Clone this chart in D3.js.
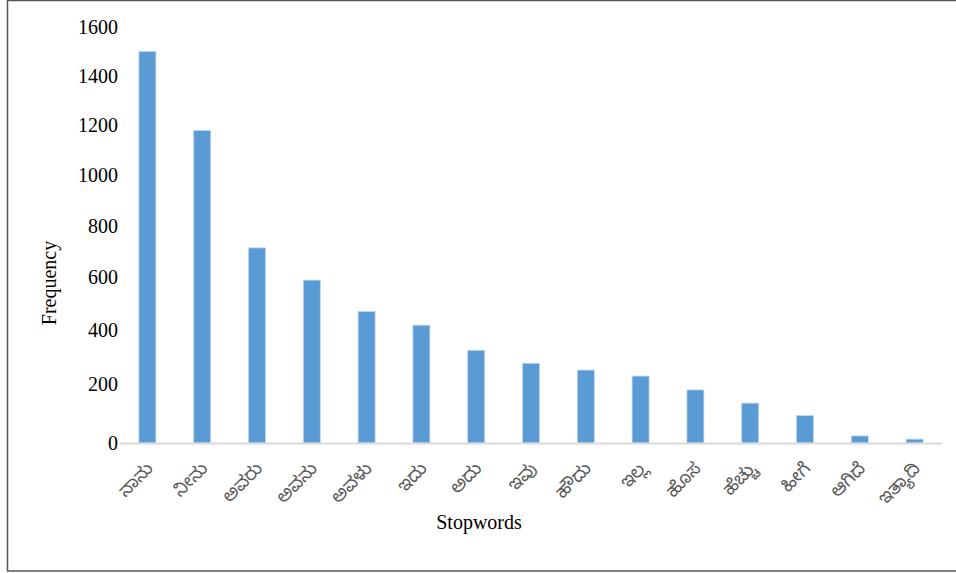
<!DOCTYPE html>
<html>
<head>
<meta charset="utf-8">
<script src="https://cdn.jsdelivr.net/npm/d3@7"></script>
<style>
  html, body { margin: 0; padding: 0; background: #fff; }
  svg { display: block; }
</style>
</head>
<body>
<svg id="chart" width="956" height="573"></svg>
<script>
// Stopword frequencies
const stopwords = ["ನಾನು", "ನೀನು", "ಅವರು", "ಅವನು", "ಅವಳು", "ಇದು", "ಅದು", "ಇವು", "ಹೌದು", "ಇಲ್ಲ", "ಹೊಸ", "ಹೆಚ್ಚು", "ಹೀಗೆ", "ಆಗಿದೆ", "ಇತ್ಯಾದಿ"];
const frequency = [1500, 1180, 715, 590, 470, 418, 324, 276, 251, 229, 179, 132, 89, 21, 11];
const yTicks = [0, 200, 400, 600, 800, 1000, 1200, 1400, 1600];

const svg = d3.select("#chart");
const serif = "'Liberation Serif', 'Times New Roman', serif";

// frame
svg.append("path")
  .attr("d", "M 960 0.5 H 7.5 V 571 H 960")
  .attr("fill", "none")
  .attr("stroke", "#555")
  .attr("stroke-width", 1.5);

const plot = { left: 120, right: 942, top: 27, bottom: 443 };

const x = d3.scaleBand()
  .domain(stopwords)
  .range([plot.left, plot.right])
  .paddingInner(0.69)
  .paddingOuter(0.345);

const y = d3.scalePow().exponent(0.94)
  .domain([0, 1600])
  .range([plot.bottom, plot.top]);

// y-axis tick labels
const yAxis = d3.axisLeft(y).tickValues(yTicks).tickSize(0).tickPadding(0).tickFormat(d3.format("d"));
const yg = svg.append("g").attr("transform", `translate(${plot.left - 2},0)`).call(yAxis);
yg.select(".domain").remove();
yg.selectAll("text")
  .attr("font-family", serif)
  .attr("font-size", 20)
  .attr("fill", "#000");

// bars
svg.append("g").selectAll("rect")
  .data(frequency)
  .join("rect")
  .attr("x", (d, i) => x(stopwords[i]))
  .attr("width", x.bandwidth())
  .attr("y", d => y(d))
  .attr("height", d => y(0) - y(d))
  .attr("fill", "#5B9BD5")
  .attr("stroke", "#bcd6ef")
  .attr("stroke-width", 0.8);

// baseline
svg.append("line")
  .attr("x1", plot.left).attr("x2", plot.right)
  .attr("y1", y(0) + 0.5).attr("y2", y(0) + 0.5)
  .attr("stroke", "#d9d9d9")
  .attr("stroke-width", 2);

// x-axis category labels
const xAxis = d3.axisBottom(x).tickSize(0).tickPadding(0);
const xg = svg.append("g").attr("transform", `translate(0,${plot.bottom})`).call(xAxis);
xg.select(".domain").remove();
xg.selectAll("text")
  .attr("font-family", "'Noto Sans Kannada', 'Lohit Kannada', 'Tunga', sans-serif")
  .attr("font-size", 18)
  .attr("fill", "#595959")
  .attr("text-anchor", "end")
  .attr("dy", "0.35em")
  .attr("transform", "translate(2,22) rotate(-45)");

// axis titles
svg.append("text")
  .attr("transform", "translate(56,283) rotate(-90)")
  .attr("text-anchor", "middle")
  .attr("font-family", serif)
  .attr("font-size", 20)
  .attr("fill", "#000")
  .text("Frequency");

svg.append("text")
  .attr("x", 479).attr("y", 529)
  .attr("text-anchor", "middle")
  .attr("font-family", serif)
  .attr("font-size", 20)
  .attr("fill", "#000")
  .text("Stopwords");
</script>
</body>
</html>
